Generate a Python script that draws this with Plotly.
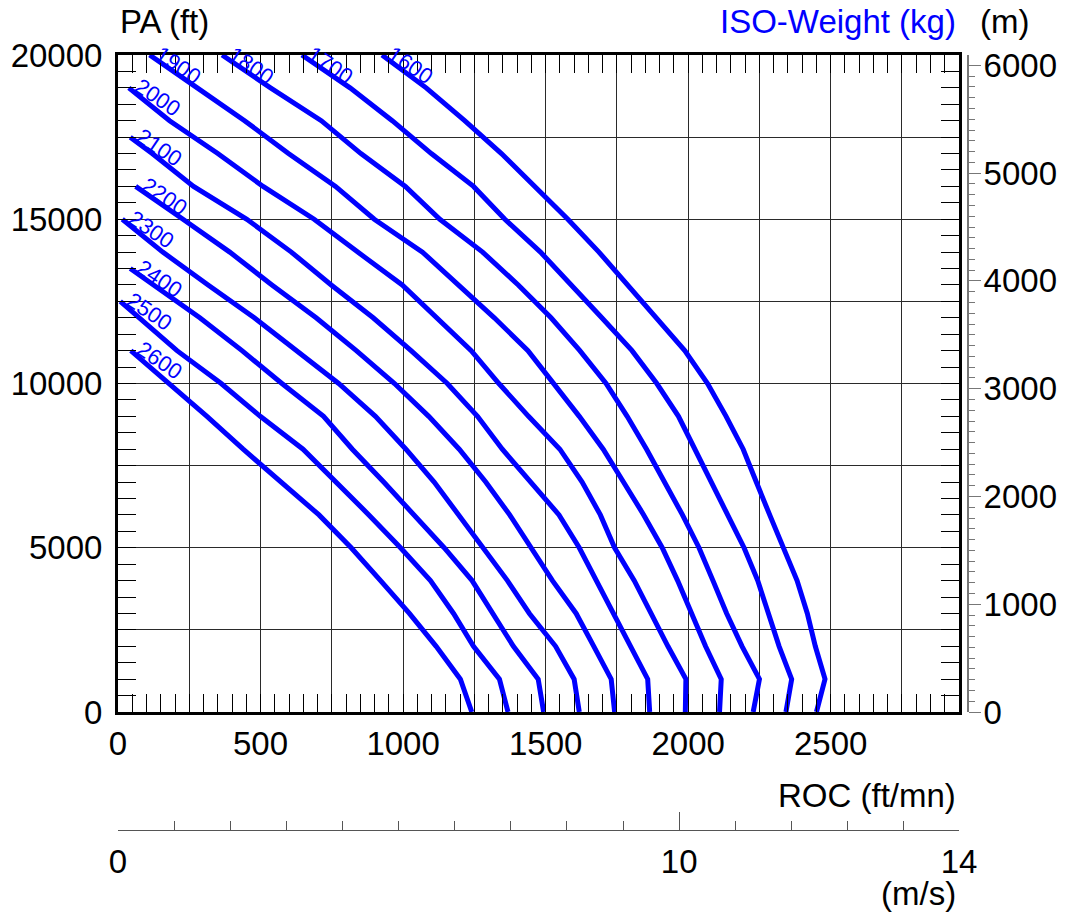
import plotly.graph_objects as go

# ---------------- data ----------------
WEIGHTS_KG = [1600, 1700, 1800, 1900, 2000, 2100, 2200, 2300, 2400, 2500, 2600]
TOP_ALT_FT = [20000, 20000, 20000, 20000, 19000, 17500, 16000, 15000, 13500, 12500, 11000]
ALT_STEPS_FT = [0, 1000, 2000, 3000, 4000, 5000, 6000, 7000, 8000, 9000, 10000,
                11000, 12000, 13000, 14000, 15000, 16000, 17000, 18000, 19000, 20000]

ROC_1600 = [2450, 2480, 2446, 2418, 2382, 2336, 2286, 2239, 2193, 2133, 2068,
            1988, 1886, 1789, 1687, 1578, 1463, 1345, 1216, 1081, 926]
ROC_1700 = [2343, 2363, 2319, 2282, 2244, 2196, 2139, 2081, 2023, 1966, 1890,
            1803, 1697, 1588, 1482, 1357, 1247, 1099, 962, 814, 645]
ROC_1800 = [2228, 2250, 2189, 2135, 2087, 2038, 1980, 1919, 1854, 1786, 1712,
            1620, 1519, 1404, 1279, 1129, 1008, 852, 713, 535, 365]
ROC_1900 = [2110, 2116, 2061, 2013, 1963, 1909, 1844, 1773, 1702, 1618, 1527,
            1438, 1320, 1197, 1068, 899, 763, 598, 444, 278, 111]
ROC_2000 = [1990, 1992, 1929, 1872, 1811, 1742, 1692, 1628, 1550, 1440, 1336,
            1239, 1117, 997, 841, 688, 509, 350, 181, 38]
ROC_2100 = [1865, 1858, 1798, 1739, 1681, 1618, 1547, 1445, 1348, 1261, 1155,
            1028, 895, 748, 608, 452, 265, 120, 43]
ROC_2200 = [1742, 1730, 1669, 1607, 1524, 1450, 1374, 1290, 1197, 1090, 970,
            836, 695, 540, 392, 228, 62]
ROC_2300 = [1618, 1600, 1535, 1443, 1366, 1280, 1197, 1109, 1010, 903, 774,
            626, 478, 316, 157, 15]
ROC_2400 = [1493, 1474, 1387, 1313, 1242, 1144, 1039, 932, 822, 721, 575,
            435, 287, 126, 43]
ROC_2500 = [1368, 1338, 1247, 1177, 1096, 991, 880, 764, 649, 499, 362,
            207, 78, 8]
ROC_2600 = [1241, 1201, 1116, 1022, 921, 818, 705, 570, 439, 312, 181, 45]

ROC_SERIES = [ROC_1600, ROC_1700, ROC_1800, ROC_1900, ROC_2000, ROC_2100,
              ROC_2200, ROC_2300, ROC_2400, ROC_2500, ROC_2600]

X_RANGE = [0, 2950]
Y_RANGE = [0, 20000]
X_GRID = [0, 250, 500, 750, 1000, 1250, 1500, 1750, 2000, 2250, 2500, 2750]
X_LABELS = ["0", "", "500", "", "1000", "", "1500", "", "2000", "", "2500", ""]
Y_GRID = [0, 2500, 5000, 7500, 10000, 12500, 15000, 17500, 20000]
Y_LABELS = ["0", "", "5000", "", "10000", "", "15000", "", "20000"]
M_TICKS = [0, 1000, 2000, 3000, 4000, 5000, 6000]
MS_TICKS = [0, 10]
MS_END_LABEL = "14"
FT_PER_M = 0.3048
FTMIN_PER_MS = 196.85

# ---------------- layout geometry (screen px) ----------------
W, H = 1065, 915
L, R, T, B = 118, 959, 55, 712   # plot area on screen
MS_AXIS_Y = 830
M_AXIS_X = 968
FONT = "Liberation Sans, Arial, sans-serif"
BLUE = "#0000ff"

PW = W - L          # paper width (margin r = 0)
PH = H - T          # paper height (margin b = 0)


def px_x(px):
    return (px - L) / PW


def px_y(py):
    return (H - py) / PH


fig = go.Figure()

for w, top, roc in zip(WEIGHTS_KG, TOP_ALT_FT, ROC_SERIES):
    alts = [a for a in ALT_STEPS_FT if a < top] + [top]
    fig.add_trace(go.Scatter(x=roc, y=alts, mode="lines",
                             line=dict(color=BLUE, width=5),
                             showlegend=False, hoverinfo="skip"))
    fig.add_annotation(x=roc[-1], y=top, xref="x", yref="y", text=str(w),
                       textangle=34, showarrow=False, xanchor="center",
                       yanchor="middle", xshift=29, yshift=-10,
                       font=dict(family=FONT, size=22, color=BLUE))

# dummy traces so that secondary axes are drawn
fig.add_trace(go.Scatter(x=[None], y=[None], xaxis="x2", yaxis="y",
                         showlegend=False, hoverinfo="skip"))
fig.add_trace(go.Scatter(x=[None], y=[None], xaxis="x", yaxis="y2",
                         showlegend=False, hoverinfo="skip"))

xdom = [0, px_x(R)]
ydom = [px_y(B), 1]
tickfont = dict(family=FONT, size=33, color="black")

fig.update_layout(
    width=W, height=H,
    margin=dict(l=L, r=0, t=T, b=0),
    paper_bgcolor="white", plot_bgcolor="white",
    font=dict(family=FONT, color="black"),
    template="none",
    showlegend=False,
    xaxis=dict(domain=xdom, range=X_RANGE, anchor="y",
               tickmode="array", tickvals=X_GRID, ticktext=X_LABELS,
               ticks="inside", ticklen=18, tickwidth=1, tickcolor="black",
               showgrid=True, gridcolor="#2a2a2a", gridwidth=1,
               showline=True, linecolor="black", linewidth=3,
               mirror="allticks", zeroline=False,
               minor=dict(dtick=50, ticks="inside", ticklen=9, tickwidth=1,
                          tickcolor="black", showgrid=False),
               tickfont=tickfont, ticklabelstandoff=0, automargin=False),
    yaxis=dict(domain=ydom, range=Y_RANGE, anchor="x",
               tickmode="array", tickvals=Y_GRID, ticktext=Y_LABELS,
               ticks="inside", ticklen=18, tickwidth=1, tickcolor="black",
               showgrid=True, gridcolor="#2a2a2a", gridwidth=1,
               showline=True, linecolor="black", linewidth=3,
               mirror="allticks", zeroline=False,
               minor=dict(dtick=500, ticks="inside", ticklen=9, tickwidth=1,
                          tickcolor="black", showgrid=False),
               tickfont=tickfont, ticklabelstandoff=6, automargin=False),
    xaxis2=dict(overlaying="x", anchor="free", position=px_y(MS_AXIS_Y),
                side="bottom",
                range=[X_RANGE[0] / FTMIN_PER_MS, X_RANGE[1] / FTMIN_PER_MS],
                tickmode="array",
                tickvals=MS_TICKS + [X_RANGE[1] / FTMIN_PER_MS],
                ticktext=[str(v) for v in MS_TICKS] + [MS_END_LABEL],
                ticks="inside", ticklen=18, tickwidth=1, tickcolor="#555",
                minor=dict(dtick=1, ticks="inside", ticklen=9, tickwidth=1,
                           tickcolor="#555", showgrid=False),
                showline=True, linecolor="#555", linewidth=1,
                showgrid=False, zeroline=False,
                tickfont=tickfont, ticklabelstandoff=2, automargin=False),
    yaxis2=dict(overlaying="y", anchor="free", position=px_x(M_AXIS_X),
                side="right",
                range=[Y_RANGE[0] * FT_PER_M, Y_RANGE[1] * FT_PER_M],
                tickmode="array", tickvals=M_TICKS,
                ticks="outside", ticklen=12, tickwidth=1, tickcolor="#777",
                minor=dict(dtick=100, ticks="outside", ticklen=6, tickwidth=1,
                           tickcolor="#777", showgrid=False),
                showline=True, linecolor="#777", linewidth=2,
                showgrid=False, zeroline=False,
                tickfont=tickfont, ticklabelstandoff=-4, automargin=False),
)

titles = [
    dict(text="PA (ft)", x=px_x(118), y=px_y(1), xanchor="left", yanchor="top", color="black"),
    dict(text="ISO-Weight (kg)", x=px_x(958), y=px_y(1), xanchor="right", yanchor="top", color=BLUE),
    dict(text="(m)", x=px_x(978), y=px_y(1), xanchor="left", yanchor="top", color="black"),
    dict(text="ROC (ft/mn)", x=px_x(958), y=px_y(795), xanchor="right", yanchor="middle", color="black"),
    dict(text="(m/s)", x=px_x(958), y=px_y(914), xanchor="right", yanchor="bottom", color="black"),
]
for t in titles:
    fig.add_annotation(text=t["text"], x=t["x"], y=t["y"], xref="paper", yref="paper",
                       xanchor=t["xanchor"], yanchor=t["yanchor"], showarrow=False,
                       font=dict(family=FONT, size=33, color=t["color"]))

fig.write_html("out.html",
               config={"displayModeBar": False, "staticPlot": True},
               post_script="document.body.style.margin='0px';"
                           "document.body.style.overflow='hidden';")
